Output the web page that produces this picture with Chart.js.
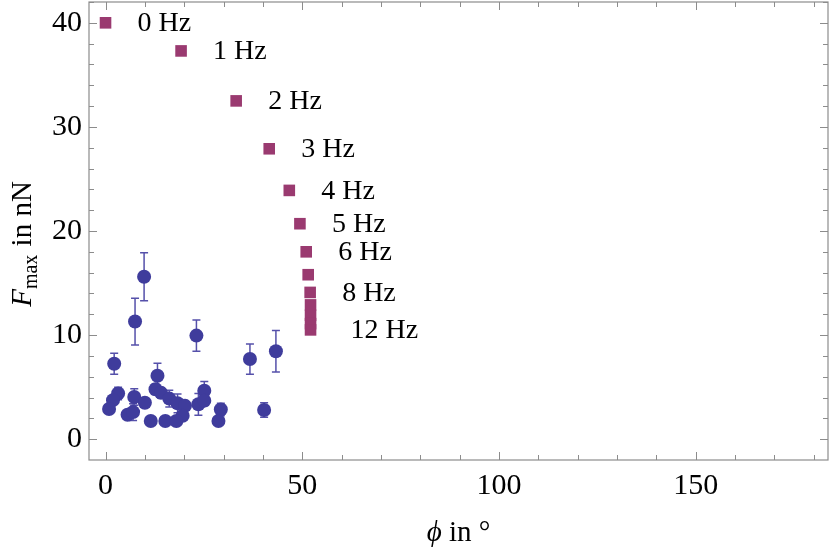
<!DOCTYPE html>
<html>
<head>
<meta charset="utf-8">
<script src="https://cdn.jsdelivr.net/npm/chart.js@4.4.1/dist/chart.umd.min.js"></script>
<style>
  body { margin: 0; background: #fff; }
  canvas { display: block; }
</style>
</head>
<body>
<canvas id="chart" width="830" height="554"></canvas>
<script>
// blue circles: measured phi (deg), F_max (nN) and error
const cellPhi = [9.8, 7.5, 2.2, 23.1, 36.7, 43.3, 13.2, 12.7, 14.1, 3.2, 1.9, 0.9, 7.3, 10.0, 5.6,
                 7.0, 11.5, 15.2, 16.2, 18.3, 20.2, 19.6, 18.0, 23.6, 25.1, 25.1, 29.3, 28.7, 40.3];
const cellForce = [15.6, 11.3, 7.25, 9.95, 7.7, 8.45, 6.1, 4.8, 4.45, 4.4, 3.75, 2.9, 4.05, 3.5, 2.35,
                   2.6, 1.75, 1.75, 3.9, 3.45, 3.2, 2.25, 1.75, 3.35, 4.65, 3.7, 2.85, 1.75, 2.8];
const cellErr = [2.3, 2.25, 1.0, 1.5, 1.45, 2.0, 1.2, 0.5, 0.5, 0.6, 0.4, 0.4, 0.8, 0.4, 0.4,
                 0.8, 0.3, 0.3, 0.8, 0.9, 0.4, 0.4, 0.3, 1.05, 0.9, 0.5, 0.6, 0.3, 0.7];

// purple squares: model curve for frequencies 0..12 Hz
const freqHz = [0, 1, 2, 3, 4, 5, 6, 7, 8, 9, 10, 11, 12];
const modelPhi = [0, 19.2, 33.2, 41.6, 46.7, 49.4, 51.0, 51.5, 52.0, 52.1, 52.1, 52.1, 52.1];
const modelForce = [40.0, 37.3, 32.5, 27.9, 23.9, 20.7, 18.0, 15.8, 14.1, 12.9, 11.9, 11.1, 10.5];
const labelledHz = [0, 1, 2, 3, 4, 5, 6, 8, 12];

const xMajor = [0, 50, 100, 150];
const yMajor = [0, 10, 20, 30, 40];

const serif = '"Liberation Serif", "DejaVu Serif", serif';
const blue = '#3f3c9c';
const purple = '#9a3a70';
const frameGray = '#8c8c8c';

const errorBars = {
    id: 'errorBars',
    beforeDatasetsDraw(chart) {
        const { ctx, scales: { x, y } } = chart;
        ctx.save();
        ctx.strokeStyle = '#5550aa';
        ctx.lineWidth = 1.5;
        cellPhi.forEach((p, i) => {
            const px = x.getPixelForValue(p);
            const top = y.getPixelForValue(cellForce[i] + cellErr[i]);
            const bot = y.getPixelForValue(cellForce[i] - cellErr[i]);
            ctx.beginPath();
            ctx.moveTo(px, top); ctx.lineTo(px, bot);
            ctx.moveTo(px - 4, top); ctx.lineTo(px + 4, top);
            ctx.moveTo(px - 4, bot); ctx.lineTo(px + 4, bot);
            ctx.stroke();
        });
        ctx.restore();
    }
};

const frameAndTicks = {
    id: 'frameAndTicks',
    afterDatasetsDraw(chart) {
        const { ctx, chartArea: a, scales: { x, y } } = chart;
        ctx.save();
        ctx.strokeStyle = frameGray;
        ctx.lineWidth = 1.2;
        ctx.strokeRect(a.left, a.top, a.right - a.left, a.bottom - a.top);
        ctx.lineWidth = 1;
        ctx.beginPath();
        for (let v = 0; v <= 180; v += 10) {
            const px = Math.round(x.getPixelForValue(v)) + 0.5;
            const len = xMajor.includes(v) ? 8 : 5;
            ctx.moveTo(px, a.bottom); ctx.lineTo(px, a.bottom - len);
            ctx.moveTo(px, a.top); ctx.lineTo(px, a.top + len);
        }
        for (let v = 0; v <= 42; v += 2) {
            const py = Math.round(y.getPixelForValue(v)) + 0.5;
            const len = yMajor.includes(v) ? 8 : 5;
            ctx.moveTo(a.left, py); ctx.lineTo(a.left + len, py);
            ctx.moveTo(a.right, py); ctx.lineTo(a.right - len, py);
        }
        ctx.stroke();
        ctx.restore();
    }
};

const hzLabels = {
    id: 'hzLabels',
    afterDatasetsDraw(chart) {
        const { ctx } = chart;
        const meta = chart.getDatasetMeta(1);
        ctx.save();
        ctx.fillStyle = '#000';
        ctx.font = '28px ' + serif;
        ctx.textBaseline = 'middle';
        freqHz.forEach((f, i) => {
            if (!labelledHz.includes(f)) return;
            const pt = meta.data[i];
            const dx = f >= 10 ? 40 : 32;
            ctx.fillText(f + ' Hz', pt.x + dx, pt.y + 1);
        });
        ctx.restore();
    }
};

const axisTitles = {
    id: 'axisTitles',
    afterDraw(chart) {
        const { ctx, chartArea: a } = chart;
        ctx.save();
        ctx.fillStyle = '#000';
        ctx.textBaseline = 'alphabetic';

        // y title: F_max in nN
        const big = '29px ' + serif;
        const bigIt = 'italic 29px ' + serif;
        const small = '20px ' + serif;
        ctx.font = bigIt; const wF = ctx.measureText('F').width;
        ctx.font = small; const wSub = ctx.measureText('max').width;
        ctx.font = big; const wRest = ctx.measureText(' in nN').width;
        const total = wF + wSub + 1 + wRest;
        ctx.translate(31, 244);
        ctx.rotate(-Math.PI / 2);
        let cx = -total / 2;
        ctx.font = bigIt; ctx.fillText('F', cx, 0); cx += wF;
        ctx.font = small; ctx.fillText('max', cx, 6); cx += wSub + 1;
        ctx.font = big; ctx.fillText(' in nN', cx, 0);
        ctx.setTransform(1, 0, 0, 1, 0, 0);

        // x title: phi in degree
        ctx.font = bigIt; const wPhi = ctx.measureText('\u03D5').width;
        ctx.font = big; const wIn = ctx.measureText(' in \u00B0').width;
        let sx = (a.left + a.right) / 2 - (wPhi + wIn) / 2;
        ctx.font = bigIt; ctx.fillText('\u03D5', sx, 541);
        ctx.font = big; ctx.fillText(' in \u00B0', sx + wPhi, 541);
        ctx.restore();
    }
};

const ctx = document.getElementById('chart').getContext('2d');

new Chart(ctx, {
    type: 'scatter',
    data: {
        datasets: [{
            data: cellPhi.map((p, i) => ({ x: p, y: cellForce[i] })),
            backgroundColor: blue,
            borderWidth: 0,
            pointRadius: 7,
            pointStyle: 'circle'
        }, {
            data: modelPhi.map((p, i) => ({ x: p, y: modelForce[i] })),
            backgroundColor: purple,
            borderWidth: 0,
            pointRadius: 8.2,
            pointStyle: 'rect'
        }]
    },
    options: {
        responsive: false,
        animation: false,
        layout: { autoPadding: false, padding: { top: 2, right: 2, left: 0, bottom: 0 } },
        plugins: {
            legend: { display: false },
            tooltip: { enabled: false }
        },
        scales: {
            x: {
                type: 'linear',
                min: -4.2,
                max: 183.6,
                border: { display: false },
                grid: { display: false, drawTicks: false },
                ticks: {
                    stepSize: 50,
                    includeBounds: false,
                    padding: 8,
                    color: '#000',
                    font: { family: serif, size: 30 }
                },
                afterFit: scale => {
                    scale.height = 94;
                    scale.paddingLeft = 0;
                    scale.paddingRight = 0;
                }
            },
            y: {
                type: 'linear',
                min: -2,
                max: 42,
                border: { display: false },
                grid: { display: false, drawTicks: false },
                ticks: {
                    stepSize: 10,
                    includeBounds: false,
                    padding: 7,
                    color: '#000',
                    font: { family: serif, size: 30 }
                },
                afterFit: scale => {
                    scale.width = 89;
                    scale.paddingTop = 0;
                    scale.paddingBottom = 0;
                }
            }
        }
    },
    plugins: [errorBars, frameAndTicks, hzLabels, axisTitles]
});
</script>
</body>
</html>
